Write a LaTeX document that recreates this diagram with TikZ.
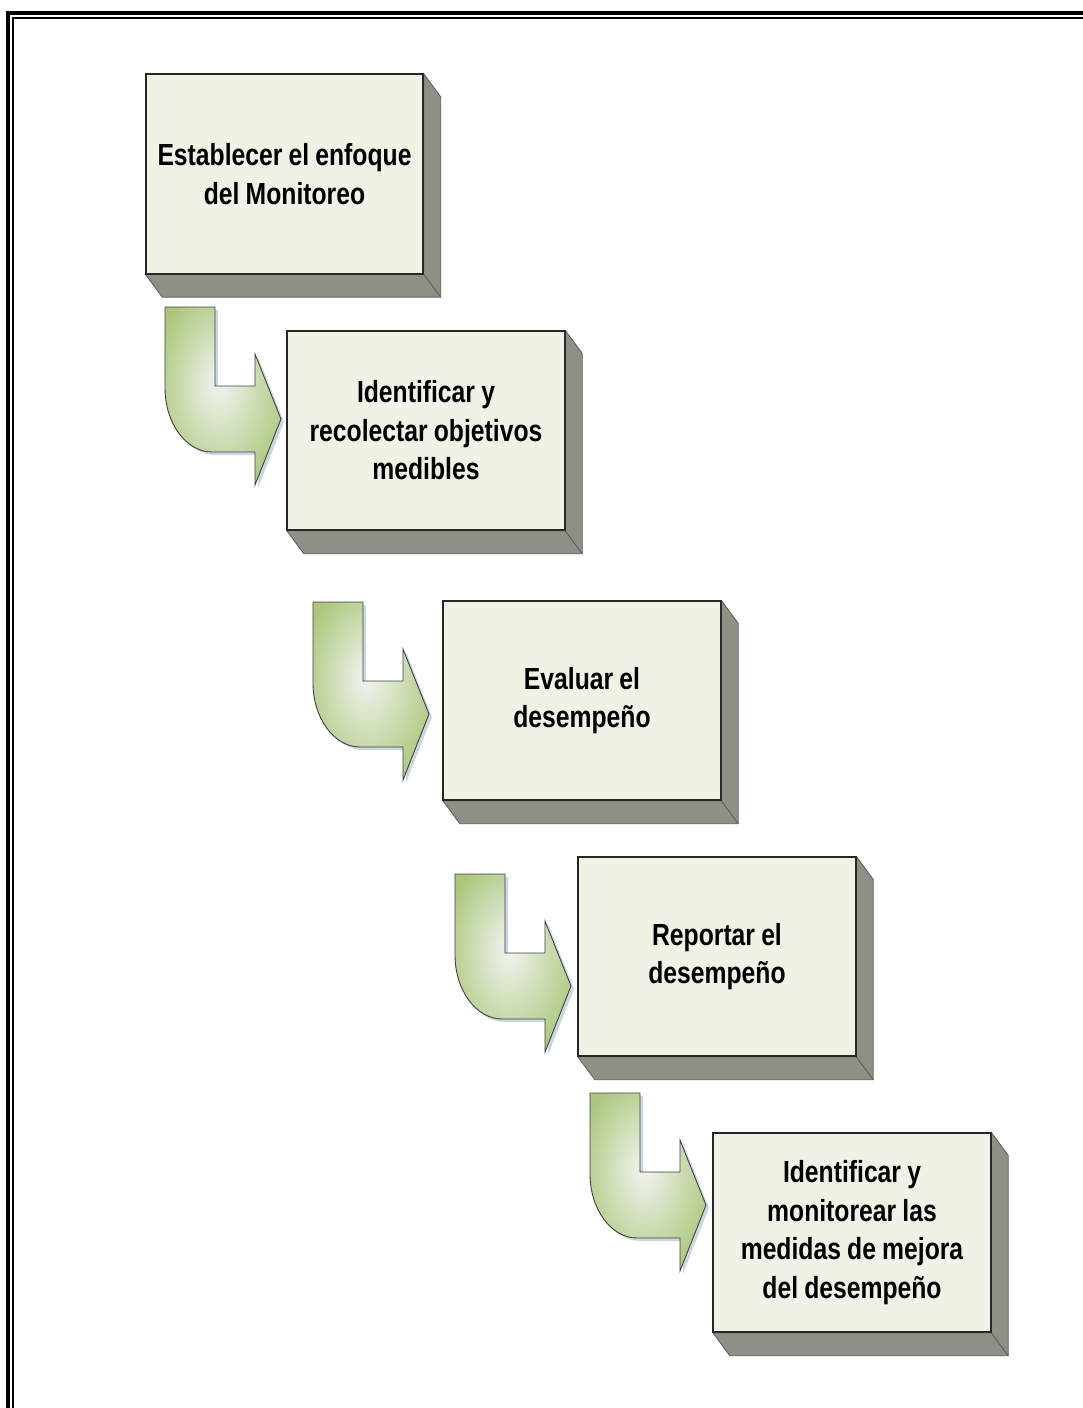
\documentclass[tikz,border=0pt]{standalone}
\usepackage{fontspec}
\newfontfamily\stepfont{Liberation Sans}[FakeStretch=0.81, WordSpace=0.9]
\usetikzlibrary{calc}

\definecolor{boxface}{RGB}{238,243,230}
\definecolor{boxside}{RGB}{141,144,132}
\definecolor{aglow}{RGB}{234,240,229}
\definecolor{aedge}{RGB}{172,199,124}
\definecolor{ashadow}{RGB}{190,205,228}

\pgfdeclareradialshading{arrowglow}{\pgfpoint{-2bp}{4bp}}{%
  color(0bp)=(aglow); color(3bp)=(aglow); color(30bp)=(aedge); color(50bp)=(aedge)}

\begin{document}
\begin{tikzpicture}[x=1pt,y=-1pt,
  stepbox/.style={draw=black!85, line width=1.4pt, fill=boxface,
    minimum width=277pt, minimum height=199pt, inner sep=0pt,
    align=center,
    font=\stepfont\bfseries\fontsize{30.5}{38.5}\selectfont},
  boxdepth/.style={fill=boxside, draw=black!65, line width=0.8pt, line join=round},
  pics/bentarrow/.style={code={
    \begin{scope}[shift={(3,3)}]
      \fill[ashadow, opacity=.8] (0,0) -- (50,0) -- (50,79) -- (90,79) -- (90,47)
        -- (116,112) -- (90,178) -- (90,145) -- (47,145)
        .. controls (21,145) and (0,116) .. (0,81) -- cycle;
    \end{scope}
    \path[shade, shading=arrowglow, draw=black!75, line width=0.9pt, line join=miter]
      (0,0) -- (50,0) -- (50,79) -- (90,79) -- (90,47)
      -- (116,112) -- (90,178) -- (90,145) -- (47,145)
      .. controls (21,145) and (0,116) .. (0,81) -- cycle;
  }}]
\useasboundingbox (0,0) rectangle (1083,1408);
\fill[white] (0,0) rectangle (1083,1408);

% page frame: heavy rule with a thin rule inside it
\draw[line width=4pt] (8,1408) -- (8,13) -- (1083,13);
\draw[line width=2pt] (13,1408) -- (13,18) -- (1083,18);

% process steps
\node[stepbox] (b1) at (284.5,174) {Establecer el enfoque\\del Monitoreo};
\node[stepbox] (b2) at (426,430.5) {Identificar y\\recolectar objetivos\\medibles};
\node[stepbox] (b3) at (582,700.5) {Evaluar el\\desempeño};
\node[stepbox] (b4) at (717,956.5) {Reportar el\\desempeño};
\node[stepbox] (b5) at (852,1232.5) {Identificar y\\monitorear las\\medidas de mejora\\del desempeño};

% extruded right and bottom faces
\foreach \n in {b1,b2,b3,b4,b5} {
  \filldraw[boxdepth] (\n.north east) -- ++(17,23) -- ($(\n.south east)+(17,23)$)
    -- ($(\n.south west)+(17,23)$) -- (\n.south west) -- (\n.south east) -- cycle;
  \draw[boxdepth] (\n.south east) -- ++(17,23);
  \draw[draw=black!85, line width=1.4pt] (\n.north west) rectangle (\n.south east);
}

% bent arrows leading from one step to the next
\pic at (165,307) {bentarrow};
\pic at (313,602) {bentarrow};
\pic at (455,874) {bentarrow};
\pic at (590,1093) {bentarrow};
\end{tikzpicture}
\end{document}
